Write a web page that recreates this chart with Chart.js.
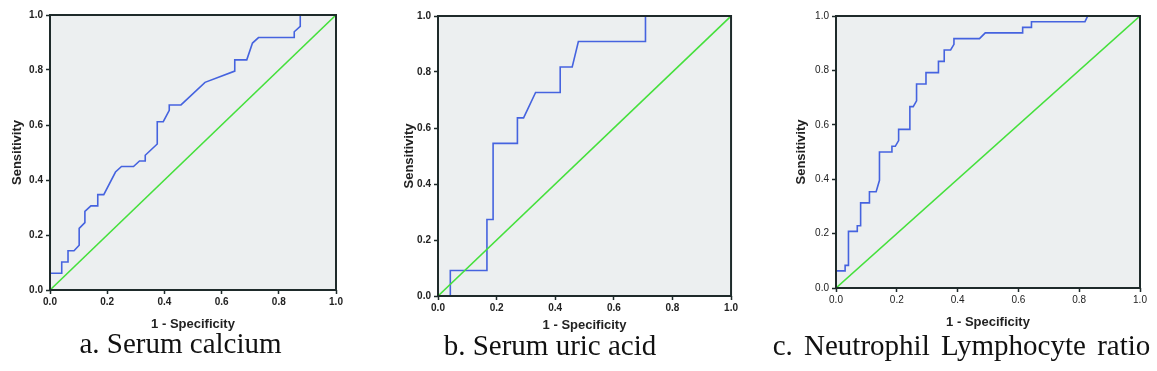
<!DOCTYPE html>
<html>
<head>
<meta charset="utf-8">
<script src="https://cdn.jsdelivr.net/npm/chart.js@4.4.1/dist/chart.umd.min.js"></script>
<style>
  body { margin: 0; background: #fff; width: 1157px; height: 371px; position: relative; overflow: hidden; }
  .panel { position: absolute; top: 0; }
  .caption {
    position: absolute;
    font-family: "Liberation Serif", "Times New Roman", serif;
    font-size: 29px;
    line-height: 29px;
    color: #111;
    white-space: nowrap;
    text-align: center;
  }
</style>
</head>
<body>
<div class="panel" style="left:0px"><canvas id="chartA" width="345" height="335"></canvas></div>
<div class="panel" style="left:390px"><canvas id="chartB" width="350" height="336"></canvas></div>
<div class="panel" style="left:780px"><canvas id="chartC" width="377" height="333"></canvas></div>
<div class="caption" style="left:40px; top:329px; width:281px">a. Serum calcium</div>
<div class="caption" style="left:400px; top:331px; width:300px">b. Serum uric acid</div>
<div class="caption" style="left:760px; top:331px; width:403px; word-spacing:4px">c. Neutrophil Lymphocyte ratio</div>

<script>
// ROC curves (1 - specificity, sensitivity)
const calciumFpr = [0, 0, 0.041, 0.041, 0.063, 0.063, 0.084, 0.102, 0.102, 0.122, 0.122, 0.143, 0.167, 0.167, 0.188, 0.229, 0.25, 0.292, 0.313, 0.333, 0.333, 0.375, 0.375, 0.396, 0.417, 0.417, 0.458, 0.542, 0.646, 0.646, 0.688, 0.708, 0.729, 0.854, 0.854, 0.875, 0.875, 1.0];
const calciumTpr = [0, 0.061, 0.061, 0.102, 0.102, 0.143, 0.143, 0.163, 0.224, 0.245, 0.286, 0.306, 0.306, 0.347, 0.347, 0.429, 0.449, 0.449, 0.469, 0.469, 0.49, 0.531, 0.612, 0.612, 0.653, 0.673, 0.673, 0.755, 0.796, 0.837, 0.837, 0.898, 0.918, 0.918, 0.939, 0.959, 1.0, 1.0];

const uricFpr = [0, 0.042, 0.042, 0.167, 0.167, 0.188, 0.188, 0.271, 0.271, 0.292, 0.333, 0.417, 0.417, 0.458, 0.479, 0.708, 0.708, 1.0];
const uricTpr = [0, 0, 0.091, 0.091, 0.273, 0.273, 0.545, 0.545, 0.636, 0.636, 0.727, 0.727, 0.818, 0.818, 0.909, 0.909, 1.0, 1.0];

const nlrFpr = [0, 0, 0.030, 0.030, 0.041, 0.041, 0.070, 0.070, 0.081, 0.081, 0.110, 0.110, 0.132, 0.143, 0.143, 0.184, 0.184, 0.195, 0.206, 0.206, 0.243, 0.243, 0.254, 0.265, 0.265, 0.296, 0.296, 0.337, 0.337, 0.356, 0.356, 0.377, 0.388, 0.388, 0.472, 0.491, 0.614, 0.614, 0.643, 0.643, 0.819, 0.828, 1.0];
const nlrTpr = [0, 0.063, 0.063, 0.083, 0.083, 0.208, 0.208, 0.229, 0.229, 0.313, 0.313, 0.354, 0.354, 0.396, 0.5, 0.5, 0.521, 0.521, 0.542, 0.583, 0.583, 0.667, 0.667, 0.688, 0.75, 0.75, 0.792, 0.792, 0.833, 0.833, 0.875, 0.875, 0.896, 0.917, 0.917, 0.938, 0.938, 0.958, 0.958, 0.979, 0.979, 1.0, 1.0];

// reference diagonal
const diagX = [0, 1];
const diagY = [0, 1];

const tickValues = [0, 0.2, 0.4, 0.6, 0.8, 1.0];
const xTitle = '1 - Specificity';
const yTitle = 'Sensitivity';

const toPoints = (xs, ys) => xs.map((x, i) => ({ x: x, y: ys[i] }));

// grey plot background and the dark frame round it
const plotFrame = {
  id: 'plotFrame',
  beforeDatasetsDraw(chart) {
    const { ctx, chartArea: a } = chart;
    ctx.save();
    ctx.fillStyle = '#eceff0';
    ctx.fillRect(a.left, a.top, a.right - a.left, a.bottom - a.top);
    ctx.restore();
  },
  afterDatasetsDraw(chart) {
    const { ctx, chartArea: a } = chart;
    ctx.save();
    ctx.strokeStyle = '#1e2a2a';
    ctx.lineWidth = 2;
    ctx.strokeRect(a.left, a.top, a.right - a.left, a.bottom - a.top);
    ctx.restore();
  }
};

function makeRoc(id, xs, ys, opts) {
  const axisBase = {
    type: 'linear',
    min: 0,
    max: 1,
    afterBuildTicks: scale => { scale.ticks = tickValues.map(v => ({ value: v })); },
    grid: { drawOnChartArea: false, drawTicks: true, tickLength: 4, tickColor: '#1e2a2a', tickWidth: 1.5 },
    border: { display: false }
  };
  const tickFont = { family: 'Liberation Sans', size: 10, weight: opts.tickWeight };

  new Chart(document.getElementById(id), {
    type: 'line',
    data: {
      datasets: [{
        data: toPoints(xs, ys),
        borderColor: '#4563df',
        borderWidth: 1.6,
        pointRadius: 0,
        tension: 0,
        order: 2
      }, {
        data: toPoints(diagX, diagY),
        borderColor: '#45e03c',
        borderWidth: 1.6,
        pointRadius: 0,
        order: 1
      }]
    },
    options: {
      responsive: false,
      animation: false,
      events: [],
      layout: { padding: { left: 0, right: opts.padRight, top: opts.padTop, bottom: 3 } },
      plugins: { legend: { display: false }, tooltip: { enabled: false } },
      scales: {
        x: Object.assign({}, axisBase, {
          afterFit: scale => { scale.height = opts.xHeight; },
          ticks: { color: '#222', font: tickFont, padding: 2, maxRotation: 0, callback: v => v.toFixed(1) },
          title: { display: true, text: xTitle, color: '#222', font: { family: 'Liberation Sans', size: 13, weight: 'bold' }, padding: { top: 0, bottom: 0 } }
        }),
        y: Object.assign({}, axisBase, {
          afterFit: scale => { scale.width = opts.yWidth; },
          ticks: { color: '#222', font: tickFont, padding: 3, callback: v => v.toFixed(1) },
          title: { display: true, text: yTitle, color: '#222', font: { family: 'Liberation Sans', size: 13, weight: 'bold' }, padding: { top: opts.yTitlePad, bottom: 0 } }
        })
      }
    },
    plugins: [plotFrame]
  });
}

makeRoc('chartA', calciumFpr, calciumTpr, { padRight: 9, padTop: 15, xHeight: 42, yWidth: 50, yTitlePad: 10, tickWeight: 'bold' });
makeRoc('chartB', uricFpr, uricTpr, { padRight: 7, padTop: 16, xHeight: 37, yWidth: 48, yTitlePad: 12, tickWeight: 'bold' });
makeRoc('chartC', nlrFpr, nlrTpr, { padRight: 17, padTop: 16, xHeight: 42, yWidth: 56, yTitlePad: 14, tickWeight: 'normal' });
</script>
</body>
</html>
